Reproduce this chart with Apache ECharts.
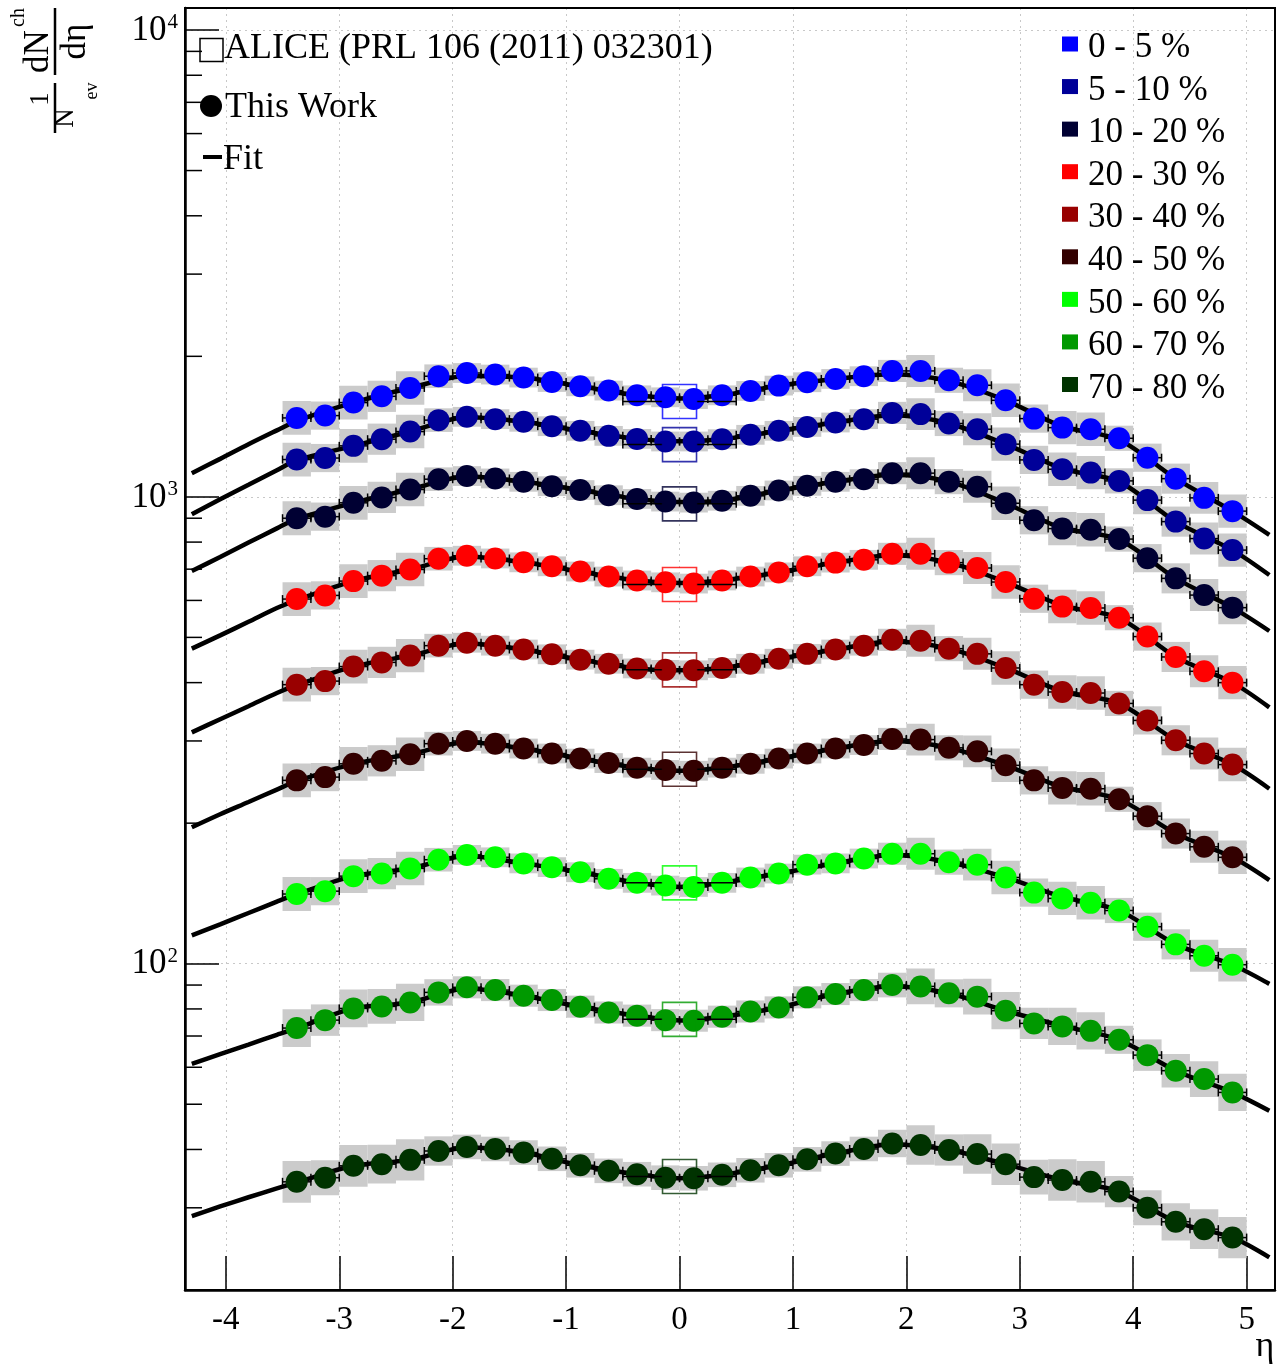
<!DOCTYPE html>
<html>
<head>
<meta charset="utf-8">
<script src="https://cdn.jsdelivr.net/npm/echarts@6/dist/echarts.min.js"></script>
<style>
html,body{margin:0;padding:0;background:#fff;}
#chart{width:1278px;height:1366px;}
</style>
</head>
<body>
<div id="chart"></div>
<script>
// ---------------- DATA ----------------
const centralities = ['0 - 5 %', '5 - 10 %', '10 - 20 %', '20 - 30 %', '30 - 40 %', '40 - 50 %', '50 - 60 %', '60 - 70 %', '70 - 80 %'];
const seriesColors = ['#0000ff', '#000099', '#000033', '#ff0000', '#990000', '#330000', '#00ff00', '#009900', '#003300'];

const etaPoints = [-3.375, -3.125, -2.875, -2.625, -2.375, -2.125, -1.875, -1.625, -1.375, -1.125, -0.875, -0.625, -0.375, -0.125,
  0.125, 0.375, 0.625, 0.875, 1.125, 1.375, 1.625, 1.875, 2.125, 2.375, 2.625, 2.875, 3.125, 3.375, 3.625, 3.875, 4.125, 4.375, 4.625, 4.875];
const etaHalfBin = 0.125;

const dNdEta_0_5   = [1476, 1493, 1592, 1642, 1711, 1813, 1842, 1828, 1801, 1762, 1725, 1689, 1650, 1634, 1620, 1650, 1686, 1731, 1760, 1789, 1813, 1861, 1861, 1777, 1734, 1610, 1471, 1407, 1396, 1335, 1213, 1094, 995, 932];
const dNdEta_5_10  = [1202, 1211, 1286, 1329, 1380, 1460, 1484, 1467, 1448, 1417, 1385, 1351, 1331, 1314, 1314, 1329, 1358, 1385, 1412, 1443, 1467, 1513, 1504, 1436, 1396, 1297, 1200, 1146, 1127, 1082, 984, 885, 814, 769];
const dNdEta_10_20 = [900, 907, 971, 997, 1037, 1091, 1108, 1095, 1077, 1054, 1034, 1008, 990, 977, 972, 981, 1005, 1032, 1056, 1077, 1091, 1124, 1124, 1078, 1051, 969, 891, 855, 850, 812, 739, 669, 616, 579];
const dNdEta_20_30 = [604, 615, 660, 678, 699, 737, 748, 738, 724, 710, 692, 675, 662, 656, 652, 662, 675, 689, 710, 723, 733, 755, 755, 723, 704, 657, 605, 582, 578, 551, 502, 454, 423, 400];
const dNdEta_30_40 = [396, 403, 433, 442, 457, 480, 487, 480, 471, 460, 448, 439, 429, 426, 425, 430, 439, 450, 461, 471, 480, 494, 492, 473, 461, 430, 396, 382, 380, 361, 332, 301, 282, 267];
const dNdEta_40_50 = [247, 251, 268, 272, 281, 296, 300, 296, 289, 282, 275, 269, 263, 260, 259, 263, 268, 275, 282, 289, 294, 303, 302, 290, 285, 266, 247, 238, 237, 225, 207, 190, 178, 169];
const dNdEta_50_60 = [141, 143, 154, 156, 160, 167, 171, 169, 164, 161, 157, 152, 149, 147, 146, 149, 153, 156, 163, 164, 168, 172, 172, 165, 163, 153, 142, 138, 135, 130, 120, 110, 104, 99.5];
const dNdEta_60_70 = [72.8, 75.7, 80.2, 81.0, 82.6, 86.8, 89.0, 87.8, 85.4, 83.6, 80.9, 78.6, 77.4, 75.7, 75.5, 77.0, 79.0, 80.6, 84.7, 86.1, 87.8, 90.0, 89.4, 86.4, 85.0, 79.3, 74.5, 73.4, 71.8, 68.7, 63.7, 59.0, 56.6, 53.0];
const dNdEta_70_80 = [34.1, 34.8, 36.9, 37.2, 38.0, 39.7, 40.5, 40.1, 39.4, 38.2, 37.0, 36.0, 35.4, 34.8, 34.7, 35.3, 36.1, 37.0, 38.1, 39.2, 40.1, 41.2, 40.9, 39.9, 39.1, 37.2, 34.9, 34.4, 34.1, 32.5, 30.0, 28.0, 27.0, 25.9];

// systematic uncertainty (percent) per eta bin, and per-centrality scale
const systPercent = [8.7, 7.2, 8.7, 8.0, 8.6, 6.0, 5, 5, 5, 5, 5, 5, 5, 5, 5, 5, 5, 5, 5, 5, 5, 5.6, 8.2, 6.4, 8.2, 8.6, 7.2, 8.6, 8.6, 6.4, 7.2, 7.7, 8.2, 8.6];
const systScale = [1, 1, 1, 1, 1, 1, 1, 1.12, 1.25];

// fit curves
const etaFit = [-4.3, -4.05, -3.8, -3.55, -3.375, -2.875, -2.375, -1.875, -1.375, -0.875, -0.375, 0, 0.375, 0.875, 1.375, 1.875, 2.375, 2.875, 3.375, 3.875, 4.375, 4.875, 5.2];
const fit_0_5   = [1124, 1206, 1296, 1388, 1455, 1592, 1711, 1815, 1801, 1725, 1650, 1625, 1650, 1731, 1789, 1830, 1770, 1610, 1415, 1325, 1094, 932, 829];
const fit_5_10  = [918, 988, 1061, 1140, 1198, 1286, 1380, 1480, 1448, 1385, 1331, 1315, 1329, 1385, 1443, 1495, 1436, 1297, 1150, 1078, 885, 769, 680];
const fit_10_20 = [694, 743, 798, 856, 897, 971, 1037, 1105, 1077, 1034, 990, 975, 981, 1032, 1077, 1115, 1078, 969, 857, 810, 669, 579, 516];
const fit_20_30 = [473, 505, 540, 578, 601, 660, 699, 745, 724, 692, 662, 654, 662, 689, 723, 750, 723, 657, 585, 550, 454, 400, 354];
const fit_30_40 = [313, 334, 356, 380, 395, 433, 457, 485, 471, 448, 429, 425, 430, 450, 471, 490, 473, 430, 383, 361, 301, 267, 237];
const fit_40_50 = [196, 209, 222, 236, 246, 268, 281, 298, 289, 275, 263, 259, 263, 275, 289, 300, 290, 266, 239, 225, 190, 169, 151];
const fit_50_60 = [115, 121.4, 128.4, 135.8, 140.9, 154, 160, 170, 164, 157, 149, 146, 149, 156, 164, 171, 165, 153, 139, 130, 110, 99.5, 90.5];
const fit_60_70 = [61.0, 64.0, 67.1, 70.4, 72.7, 80.2, 82.6, 88.5, 85.4, 80.9, 77.4, 75.6, 77.0, 80.6, 86.1, 89.5, 86.4, 79.3, 73.6, 68.7, 59.0, 53.0, 48.4];
const fit_70_80 = [28.8, 30.2, 31.6, 33.0, 34.0, 36.9, 38.0, 40.4, 39.4, 37.0, 35.4, 34.7, 35.3, 37.0, 39.2, 41.0, 39.9, 37.2, 34.4, 32.5, 28.0, 25.9, 23.5];

// ALICE PRL 106 (2011) 032301, |eta| < 0.5
const aliceEta = 0;
const aliceEtaHalfWidth = 0.5;
const aliceValues = [1601, 1294, 966, 649, 426, 261, 149, 76, 35];

const xTickLabels = [-4, -3, -2, -1, 0, 1, 2, 3, 4, 5];

const dataSets = [dNdEta_0_5, dNdEta_5_10, dNdEta_10_20, dNdEta_20_30, dNdEta_30_40, dNdEta_40_50, dNdEta_50_60, dNdEta_60_70, dNdEta_70_80];
const fitSets = [fit_0_5, fit_5_10, fit_10_20, fit_20_30, fit_30_40, fit_40_50, fit_50_60, fit_60_70, fit_70_80];

// ---------------- CHART ----------------
const SERIF = '"Liberation Serif", "DejaVu Serif", serif';
const chart = echarts.init(document.getElementById('chart'), null, {renderer: 'canvas'});

const yMin = 20, yMax = 11147;
const yMinorTicks = [];
[10, 100, 1000].forEach(d => { for (let k = 2; k <= 9; k++) { const v = k * d; if (v > yMin && v < yMax) yMinorTicks.push(v); } });

const series = [];

// systematic boxes
dataSets.forEach((vals, si) => {
  series.push({
    type: 'custom', z: 1, silent: true,
    data: etaPoints.map((e, i) => [e, vals[i], systPercent[i] * systScale[si]]),
    encode: {x: 0, y: 1},
    renderItem: (params, api) => {
      const e = api.value(0), v = api.value(1), s = api.value(2) / 100;
      const p1 = api.coord([e - etaHalfBin, v * (1 + s)]);
      const p2 = api.coord([e + etaHalfBin, v / (1 + s)]);
      return {type: 'rect', shape: {x: p1[0], y: p1[1], width: p2[0] - p1[0], height: p2[1] - p1[1]}, style: {fill: '#cbcbcb'}};
    }
  });
});

// fits
fitSets.forEach((vals) => {
  series.push({
    type: 'line', z: 2, silent: true, smooth: 0.3, showSymbol: false, symbol: 'none',
    data: etaFit.map((e, i) => [e, vals[i]]),
    lineStyle: {color: '#000', width: 4.5}
  });
});

// horizontal error bars
dataSets.forEach((vals) => {
  series.push({
    type: 'custom', z: 3, silent: true,
    data: etaPoints.map((e, i) => [e, vals[i]]),
    encode: {x: 0, y: 1},
    renderItem: (params, api) => {
      const e = api.value(0), v = api.value(1);
      const a = api.coord([e - etaHalfBin, v]), b = api.coord([e + etaHalfBin, v]);
      const c = 4, st = {stroke: '#000', lineWidth: 1.5};
      return {type: 'group', children: [
        {type: 'line', shape: {x1: a[0], y1: a[1], x2: b[0], y2: b[1]}, style: st},
        {type: 'line', shape: {x1: a[0], y1: a[1] - c, x2: a[0], y2: a[1] + c}, style: st},
        {type: 'line', shape: {x1: b[0], y1: b[1] - c, x2: b[0], y2: b[1] + c}, style: st}
      ]};
    }
  });
});

// data points
dataSets.forEach((vals, si) => {
  series.push({
    type: 'scatter', z: 4, silent: true, symbol: 'circle', symbolSize: 22,
    itemStyle: {color: seriesColors[si], opacity: 1},
    data: etaPoints.map((e, i) => [e, vals[i]])
  });
});

// ALICE points: open squares + x-error line
series.push({
  type: 'custom', z: 5, silent: true,
  data: aliceValues.map((v) => [aliceEta, v]),
  encode: {x: 0, y: 1},
  renderItem: (params, api) => {
    const e = api.value(0), v = api.value(1);
    const a = api.coord([e - aliceEtaHalfWidth, v]), b = api.coord([e + aliceEtaHalfWidth, v]);
    const m = api.coord([e, v]);
    const h = 17, c = 4, st = {stroke: '#000', lineWidth: 1.5};
    return {type: 'group', children: [
      {type: 'line', shape: {x1: a[0], y1: a[1], x2: m[0] - h, y2: m[1]}, style: st},
      {type: 'line', shape: {x1: m[0] + h, y1: m[1], x2: b[0], y2: b[1]}, style: st},
      {type: 'line', shape: {x1: a[0], y1: a[1] - c, x2: a[0], y2: a[1] + c}, style: st},
      {type: 'line', shape: {x1: b[0], y1: b[1] - c, x2: b[0], y2: b[1] + c}, style: st}
    ]};
  }
});
series.push({
  type: 'scatter', z: 6, silent: true, symbol: 'rect', symbolSize: 34,
  data: aliceValues.map((v, i) => ({value: [aliceEta, v], itemStyle: {color: 'rgba(0,0,0,0)', borderColor: seriesColors[i], borderWidth: 1.6}}))
});

// y minor ticks
series.push({
  type: 'custom', z: 7, silent: true,
  data: yMinorTicks.map(v => [0, v]),
  encode: {x: 0, y: 1},
  renderItem: (params, api) => {
    const y = api.coord([0, api.value(1)])[1];
    const x0 = params.coordSys.x;
    return {type: 'line', shape: {x1: x0, y1: y, x2: x0 + 17, y2: y}, style: {stroke: '#000', lineWidth: 1.5}};
  }
});

// ---- graphics: frame, legends, axis titles ----
const graphics = [];
graphics.push({type: 'rect', z: 100, silent: true, shape: {x: 185, y: 8, width: 1090, height: 1282}, style: {fill: 'none', stroke: '#000', lineWidth: 2}});

// left legend
graphics.push({type: 'rect', z: 100, shape: {x: 200, y: 38.5, width: 23, height: 23}, style: {fill: 'none', stroke: '#000', lineWidth: 1.5}});
graphics.push({type: 'text', z: 100, style: {text: 'ALICE (PRL 106 (2011) 032301)', x: 224, y: 49, fontSize: 36, fontFamily: SERIF, fill: '#000', align: 'left', verticalAlign: 'middle'}});
graphics.push({type: 'circle', z: 100, shape: {cx: 211, cy: 106, r: 11}, style: {fill: '#000'}});
graphics.push({type: 'text', z: 100, style: {text: 'This Work', x: 225, y: 108, fontSize: 36, fontFamily: SERIF, fill: '#000', align: 'left', verticalAlign: 'middle'}});
graphics.push({type: 'line', z: 100, shape: {x1: 203, y1: 157, x2: 222, y2: 157}, style: {stroke: '#000', lineWidth: 4}});
graphics.push({type: 'text', z: 100, style: {text: 'Fit', x: 223, y: 160, fontSize: 36, fontFamily: SERIF, fill: '#000', align: 'left', verticalAlign: 'middle'}});

// right legend
centralities.forEach((name, i) => {
  const cy = 44 + i * 42.56;
  graphics.push({type: 'rect', z: 100, shape: {x: 1062, y: cy - 7.5, width: 16, height: 15}, style: {fill: seriesColors[i]}});
  graphics.push({type: 'text', z: 100, style: {text: name, x: 1088, y: cy + 4, fontSize: 35, fontFamily: SERIF, fill: '#000', align: 'left', verticalAlign: 'middle'}});
});

// x axis title
graphics.push({type: 'text', z: 100, style: {text: 'η', x: 1265, y: 1347, fontSize: 36, fontFamily: SERIF, fill: '#000', align: 'center', verticalAlign: 'middle'}});

// y axis title (rotated fraction)
const tStyle = (text, x, y, size) => ({type: 'text', style: {text, x, y, fontSize: size, fontFamily: SERIF, fill: '#000', align: 'center', verticalAlign: 'middle'}});
graphics.push({
  type: 'group', x: 0, y: 140, rotation: Math.PI / 2, z: 100,
  children: [
    tStyle('1', 41, 41, 27),
    {type: 'line', shape: {x1: 7, y1: 55, x2: 57, y2: 55}, style: {stroke: '#000', lineWidth: 2.5}},
    tStyle('N', 22, 66, 27),
    tStyle('ev', 49, 92, 18),
    {type: 'line', shape: {x1: 65, y1: 55, x2: 132, y2: 55}, style: {stroke: '#000', lineWidth: 2.5}},
    tStyle('dN', 88.5, 38.5, 35),
    tStyle('ch', 122.5, 19, 20),
    tStyle('dη', 98.5, 76, 35)
  ]
});

const option = {
  animation: false,
  backgroundColor: '#ffffff',
  grid: {left: 185, top: 8, right: 3, bottom: 76, containLabel: false},
  xAxis: {
    type: 'value', min: -4.36, max: 5.25, splitNumber: 10,
    axisLine: {show: true, onZero: false, lineStyle: {color: '#000', width: 2.5}},
    axisTick: {show: true, inside: true, length: 34, lineStyle: {color: '#000', width: 1.5}},
    axisLabel: {
      margin: 14, color: '#000', fontSize: 33, fontFamily: SERIF, showMinLabel: true, showMaxLabel: true,
      formatter: v => (xTickLabels.indexOf(Math.round(v)) >= 0 && Math.abs(v - Math.round(v)) < 1e-9) ? String(Math.round(v)) : ''
    },
    splitLine: {show: true, lineStyle: {color: '#c8c8c8', width: 1, type: [2, 4]}}
  },
  yAxis: {
    type: 'log', logBase: 10, min: yMin, max: yMax,
    axisLine: {show: true, onZero: false, lineStyle: {color: '#000', width: 2.5}},
    axisTick: {show: true, inside: true, length: 34, lineStyle: {color: '#000', width: 1.5}},
    axisLabel: {
      margin: 7, color: '#000',
      formatter: v => {
        const l = Math.log10(v), e = Math.round(l);
        if (Math.abs(l - e) > 1e-6) return '';
        return '{b|10}{s|' + e + '}';
      },
      rich: {
        b: {fontSize: 35, fontFamily: SERIF, color: '#000', lineHeight: 36, verticalAlign: 'bottom'},
        s: {fontSize: 21, fontFamily: SERIF, color: '#000', lineHeight: 22, verticalAlign: 'top', padding: [0, 0, 0, 1]}
      }
    },
    splitLine: {show: true, lineStyle: {color: '#c8c8c8', width: 1, type: [2, 4]}}
  },
  series: series,
  graphic: graphics
};
chart.setOption(option);
</script>
</body>
</html>
